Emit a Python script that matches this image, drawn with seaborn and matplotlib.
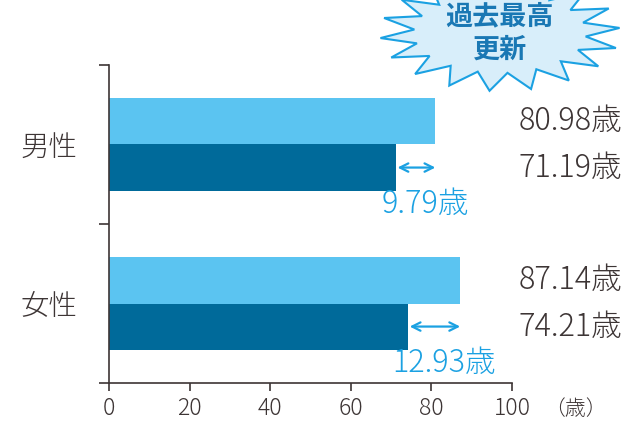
import numpy as np
import pandas as pd
import seaborn as sns
import matplotlib.pyplot as plt
from matplotlib.patches import Polygon

# data
categories = ['男性', '女性']
avg_life = [80.98, 87.14]      # 平均寿命
healthy_life = [71.19, 74.21]  # 健康寿命
gap_labels = ['9.79歳', '12.93歳']
x_ticks = [0, 20, 40, 60, 80, 100]

df = pd.DataFrame({
    'cat': categories * 2,
    'kind': ['平均寿命'] * 2 + ['健康寿命'] * 2,
    'age': avg_life + healthy_life,
})

sns.set_style('white')
plt.rcParams['font.family'] = ['Noto Sans CJK JP', 'DejaVu Sans']
plt.rcParams['font.weight'] = 'light'
txt = '#3d3535'
cyan = '#1ba1e2'

fig = plt.figure(figsize=(6.27, 4.23), dpi=100)
ax = fig.add_axes([109 / 627, 40 / 423, 403 / 627, 318 / 423])

sns.barplot(data=df, y='cat', x='age', hue='kind', orient='h', ax=ax,
            palette=['#5bc4f1', '#006a9a'], width=0.58, saturation=1,
            legend=False, linewidth=0)

ax.set_xlim(0, 100)
ax.set_ylim(1.5, -0.5)
ax.set_xlabel('')
ax.set_ylabel('')
ax.set_xticks(x_ticks)
ax.tick_params(axis='x', bottom=True, length=6, width=1.2, color=txt,
               labelsize=16.5, labelcolor=txt, pad=3.5, direction='out')
ax.set_yticks([0, 1])
ax.set_yticklabels(categories)
ax.tick_params(axis='y', which='major', left=True, length=0, labelsize=20.5,
               labelcolor=txt, pad=23)
ax.set_yticks([-0.5, 0.5, 1.5], minor=True)
ax.tick_params(axis='y', which='minor', left=True, length=7, width=1.2,
               color=txt, direction='out')
for s in ['top', 'right']:
    ax.spines[s].set_visible(False)
for s in ['left', 'bottom']:
    ax.spines[s].set_color(txt)
    ax.spines[s].set_linewidth(1.2)

# bar centres from the drawn patches
bars = [p for p in ax.patches if p.get_width() > 0]
light = sorted(bars[:2], key=lambda p: p.get_y())
dark = sorted(bars[2:], key=lambda p: p.get_y())

for i in range(len(categories)):
    yl = light[i].get_y() + light[i].get_height() / 2
    yd = dark[i].get_y() + dark[i].get_height() / 2
    ax.text(127.3, yl, f'{avg_life[i]:.2f}歳', ha='right', va='center',
            fontsize=22, color=txt, clip_on=False)
    ax.text(127.3, yd, f'{healthy_life[i]:.2f}歳', ha='right', va='center',
            fontsize=22, color=txt, clip_on=False)
    ax.annotate('', xy=(avg_life[i], yd), xytext=(healthy_life[i] + 0.4, yd),
                arrowprops=dict(arrowstyle='<->', color=cyan, lw=1.6,
                                shrinkA=0, shrinkB=0, mutation_scale=15))
    mid = (avg_life[i] + healthy_life[i]) / 2 + 2.5
    ax.text(mid, i + 0.375, gap_labels[i], ha='center', va='center',
            fontsize=22, color=cyan)

fig.text(575 / 627, 1 - 409 / 423, '（歳）', ha='center', va='center',
         fontsize=15, color=txt)

# starburst badge
n = 18
ang = np.linspace(0, 2 * np.pi, 2 * n, endpoint=False) + np.pi / (2 * n)
rx = np.where(np.arange(2 * n) % 2 == 0, 120, 86)
ry = np.where(np.arange(2 * n) % 2 == 0, 58, 40)
cx, cy = 500, 423 - 33
pts = np.column_stack([(cx + rx * np.cos(ang)) / 627, (cy + ry * np.sin(ang)) / 423])
star = Polygon(pts, closed=True, transform=fig.transFigure, facecolor='#d8eefa',
               edgecolor=cyan, lw=1.5, clip_on=False)
fig.add_artist(star)
fig.text(cx / 627, cy / 423, '過去最高\n更新', ha='center', va='center',
         fontsize=19.5, fontweight='bold', color='#1a78b4', linespacing=1.2)

fig.savefig('out.png', dpi=100)
